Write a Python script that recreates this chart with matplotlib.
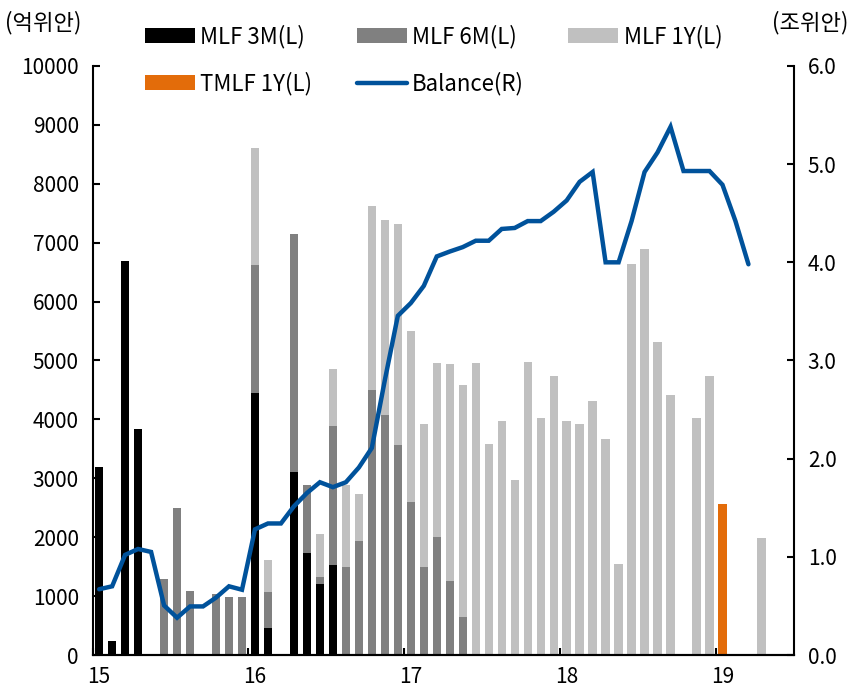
import matplotlib
matplotlib.use('Agg')
import matplotlib.pyplot as plt
import numpy as np

plt.rcParams['font.family'] = ['Noto Sans CJK KR', 'DejaVu Sans']

# monthly, Jan 2015 .. Apr 2019 (100 million yuan)
mlf_3m = [3190, 240, 6690, 3840, 0, 0, 0, 0, 0, 0, 0, 0,
          4440, 455, 0, 3100, 1735, 1210, 1520, 0, 0, 0, 0, 0,
          0, 0, 0, 0, 0, 0, 0, 0, 0, 0, 0, 0,
          0, 0, 0, 0, 0, 0, 0, 0, 0, 0, 0, 0,
          0, 0, 0, 0]
mlf_6m = [0, 0, 0, 0, 0, 1290, 2490, 1090, 0, 1040, 990, 990,
          2180, 620, 0, 4040, 1155, 120, 2370, 1500, 1930, 4505, 4080, 3570,
          2605, 1490, 2005, 1260, 646, 0, 0, 0, 0, 0, 0, 0,
          0, 0, 0, 0, 0, 0, 0, 0, 0, 0, 0, 0,
          0, 0, 0, 0]
mlf_1y = [0, 0, 0, 0, 0, 0, 0, 0, 0, 0, 0, 0,
          1995, 540, 0, 0, 0, 730, 960, 1390, 810, 3115, 3300, 3745,
          2895, 2435, 2960, 3680, 3935, 4965, 3590, 3980, 2970, 4970, 4030, 4740,
          3970, 3920, 4310, 3670, 1550, 6630, 6900, 5320, 4410, 0, 4030, 4730,
          0, 0, 0, 1990]
tmlf_1y = [0] * 48 + [2570, 0, 0, 0]
# balance (trillion yuan), Jan 2015 .. Mar 2019
balance = [0.67, 0.70, 1.02, 1.08, 1.05, 0.505, 0.38, 0.495, 0.495, 0.585, 0.70, 0.665,
           1.28, 1.34, 1.34, 1.515, 1.65, 1.76, 1.71, 1.76, 1.91, 2.11, 2.8, 3.455,
           3.585, 3.76, 4.06, 4.11, 4.155, 4.22, 4.22, 4.34, 4.35, 4.42, 4.42, 4.515,
           4.63, 4.82, 4.92, 4.00, 4.00, 4.42, 4.92, 5.12, 5.38, 4.93, 4.93, 4.93,
           4.79, 4.42, 3.98]
year_labels = ['15', '16', '17', '18', '19']

x = np.arange(len(mlf_3m))
m3 = np.array(mlf_3m)
m6 = np.array(mlf_6m)
m1 = np.array(mlf_1y)

fig = plt.figure(figsize=(8.5, 6.93), dpi=100)
ax = fig.add_axes([0.109, 0.0548, 0.825, 0.850])
w = 0.64
b1 = ax.bar(x, m3, w, color='black', label='MLF 3M(L)')
b2 = ax.bar(x, m6, w, bottom=m3, color='#808080', label='MLF 6M(L)')
b3 = ax.bar(x, m1, w, bottom=m3 + m6, color='#c0c0c0', label='MLF 1Y(L)')
b4 = ax.bar(x, tmlf_1y, w, color='#e36c0a', label='TMLF 1Y(L)')

ax.set_xlim(-0.5, 53.5)
ax.set_ylim(0, 10000)
ax.set_yticks(range(0, 10001, 1000))
ax.set_xticks(np.arange(0, 49, 12))
ax.set_xticklabels(year_labels)
ax.set_xticks(np.arange(-0.5, 49, 12), minor=True)
ax.tick_params(axis='x', which='major', length=0, pad=8, labelsize=15)
ax.tick_params(axis='x', which='minor', direction='in', length=5, width=1.5)
ax.tick_params(axis='y', direction='in', length=5, width=1.5, labelsize=15, pad=10)

ax2 = ax.twinx()
ln, = ax2.plot(np.arange(len(balance)), balance, color='#00529b', lw=3.2,
               solid_joinstyle='miter', solid_capstyle='round', label='Balance(R)')
ax2.set_ylim(0, 6)
ax2.set_yticks(np.arange(0, 6.01, 1.0))
ax2.set_yticklabels(['%.1f' % v for v in np.arange(0, 6.01, 1.0)])
ax2.tick_params(axis='y', direction='in', length=5, width=1.5, labelsize=15, pad=10)

for a in (ax, ax2):
    a.spines['top'].set_visible(False)
    for s in ('left', 'right', 'bottom'):
        a.spines[s].set_linewidth(1.5)
ax.spines['right'].set_visible(False)
ax2.spines['left'].set_visible(False)

fig.text(0.006, 0.968, '(억위안)', fontsize=16, va='center', ha='left')
fig.text(0.998, 0.968, '(조위안)', fontsize=16, va='center', ha='right')

handles = [b1, b4, b2, ln, b3]
fig.legend(handles=handles, labels=[h.get_label() for h in handles],
           loc='upper left', bbox_to_anchor=(0.170, 0.964), ncol=3, frameon=False,
           fontsize=16, handlelength=2.25, handleheight=0.65, handletextpad=0.25,
           columnspacing=2.0, labelspacing=1.05, borderpad=0, borderaxespad=0)

fig.savefig('out.png', dpi=100)
